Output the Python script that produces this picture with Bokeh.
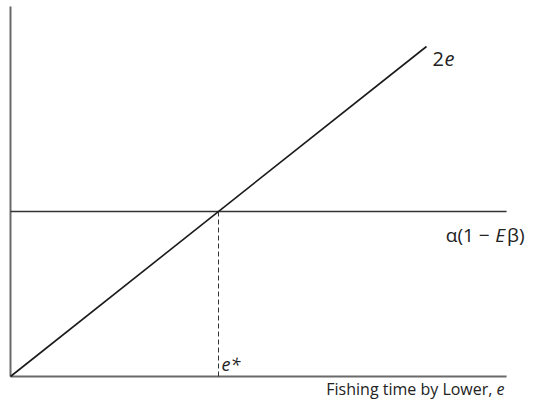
from bokeh.plotting import figure
from bokeh.models import Range1d
from bokeh.core.properties import value
from bokeh.embed import file_html
from bokeh.resources import INLINE

# Data (model units: e* = 1, alpha(1 - E beta) = 2)
diag_x = [0, 2.0]
diag_y = [0, 4.0]
level_value = 2.0
e_star = 1.0
x_max = 2.385
y_max = 4.485

diag_label = "2"
diag_label_it = "e"
level_label_a = "α(1 − "
level_label_b = "E"
level_label_c = "β)"
estar_label = "e*"
x_label = "Fishing time by Lower, "
x_label_it = "e"

FONT = "Open Sans"

W, H = 525, 401
px_x = 208.0   # pixels per unit e
px_y = 82.5    # pixels per unit y
ox, oy = 10.0, 376.0  # origin in figure pixels

p = figure(width=W, height=H, output_backend="svg", toolbar_location=None,
           x_axis_location=None, y_axis_location=None,
           min_border=0, outline_line_color=None)
p.x_range = Range1d(-ox / px_x, (W - ox) / px_x)
p.y_range = Range1d(-(H - oy) / px_y, oy / px_y)
p.xgrid.visible = False
p.ygrid.visible = False

# axes
p.line([0, 0], [0, y_max], line_color="#6a6a6a", line_width=2)
p.line([0, x_max], [0, 0], line_color="#6a6a6a", line_width=2)

# horizontal level
p.line([0, x_max], [level_value, level_value], line_color="#333333", line_width=1.6)
# diagonal
p.line(diag_x, diag_y, line_color="#1a1a1a", line_width=1.6)
# dashed e*
p.line([e_star, e_star], [0, level_value], line_color="#333333", line_width=1,
       line_dash="5 3")

common = dict(text_font=value(FONT), text_color="#222222", text_baseline="alphabetic")

# 2e
p.text(x=[diag_x[1] + 6 / px_x], y=[diag_y[1] - 12 / px_y], text=[diag_label],
       text_font_size="20px", text_align="left", **common)
p.text(x=[diag_x[1] + 18 / px_x], y=[diag_y[1] - 12 / px_y], text=[diag_label_it],
       text_font_size="20px", text_font_style="italic", text_align="left", **common)

# alpha(1 - E beta)
lx_end = x_max + 18 / px_x
ly = level_value - 23.5 / px_y
p.text(x=[lx_end], y=[ly], text=[level_label_c], text_font_size="19px",
       text_align="right", **common)
p.text(x=[lx_end - 19.5 / px_x], y=[ly], text=[level_label_b], text_font_size="19px",
       text_font_style="italic", text_align="right", **common)
p.text(x=[lx_end - 30 / px_x], y=[ly], text=[level_label_a], text_font_size="19px",
       text_align="right", **common)

# e*
p.text(x=[e_star + 3 / px_x], y=[13 / px_y], text=[estar_label],
       text_font_size="18px", text_font_style="italic", text_align="left", **common)

# x label
p.text(x=[x_max - 10 / px_x], y=[-12 / px_y], text=[x_label],
       text_font_size="16px", text_align="right", **common)
p.text(x=[x_max - 10 / px_x], y=[-12 / px_y], text=[x_label_it],
       text_font_size="16px", text_font_style="italic", text_align="left", **common)

open("out.html", "w").write(file_html(p, INLINE))
